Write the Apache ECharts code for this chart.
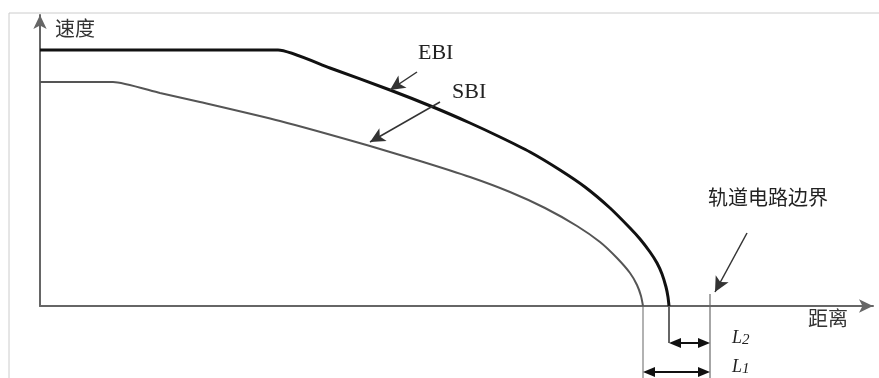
<!DOCTYPE html>
<html>
<head>
<meta charset="utf-8">
<script src="https://cdn.jsdelivr.net/npm/echarts@6/dist/echarts.min.js"></script>
<style>
html,body{margin:0;padding:0;background:#fff;}
#chart{width:879px;height:378px;}
</style>
</head>
<body>
<div id="chart"></div>
<script>
// 速度-距离曲线, 数值按图上估读 (横轴: 距离, 纵轴: 速度)
const curveNames = ['EBI', 'SBI'];
const ebiDist  = [0, 225, 238, 290, 350, 393, 430, 460, 490, 520, 545, 570, 590, 600, 610, 617, 622, 626, 628, 629];
const ebiSpeed = [256, 256, 256, 238, 216, 199, 183, 169, 154, 136, 119, 98, 78, 67, 54, 43, 32, 19, 9, 0];
const sbiDist  = [0, 65, 73, 120, 160, 240, 330, 380, 430, 470, 505, 537, 560, 577, 590, 597, 601, 603];
const sbiSpeed = [224, 224, 224, 213, 204, 185, 160, 145, 129, 114, 98, 80, 64, 48, 33, 21, 10, 0];
const boundaryDist = 670;   // 轨道电路边界
const distMax = 833;
const speedMax = 291;

// 标注箭头 [起点, 终点]
const ebiPointer = [[377, 234], [350, 216]];
const sbiPointer = [[400, 204], [330, 164]];
const boundaryPointer = [[707, 73], [675, 14]];
const l2Row = -37, l1Row = -66;
const belowBottom = -72;

let chart = echarts.init(document.getElementById('chart'));

const toPairs = (xs, ys) => xs.map((x, i) => [x, ys[i]]);

function arrowLine(a, b) {
  return [{coord: a, symbol: 'none'}, {coord: b, symbol: 'arrow'}];
}

chart.setOption({
  animation: false,
  grid: {left: 40, right: 6, top: 15, bottom: 72},
  xAxis: {
    type: 'value', min: 0, max: distMax,
    name: '距离', nameLocation: 'end', nameGap: -65,
    nameTextStyle: {fontFamily: 'Noto Sans CJK SC', fontSize: 20, color: '#333', align: 'left', verticalAlign: 'top', padding: [2, 0, 0, 0]},
    axisLine: {symbol: ['none', 'arrow'], symbolSize: [10, 14], lineStyle: {color: '#666', width: 2}},
    axisTick: {show: false}, axisLabel: {show: false}, splitLine: {show: false}
  },
  yAxis: {
    type: 'value', min: 0, max: speedMax,
    name: '速度', nameLocation: 'end', nameGap: -13,
    nameTextStyle: {fontFamily: 'Noto Sans CJK SC', fontSize: 20, color: '#333', align: 'left', verticalAlign: 'middle', padding: [0, 0, 0, 15]},
    axisLine: {symbol: ['none', 'arrow'], symbolSize: [10, 14], lineStyle: {color: '#666', width: 2}},
    axisTick: {show: false}, axisLabel: {show: false}, splitLine: {show: false}
  },
  series: [
    {
      name: curveNames[0], type: 'line', data: toPairs(ebiDist, ebiSpeed),
      showSymbol: false, smooth: 0.2, clip: false, silent: true,
      lineStyle: {color: '#111', width: 3},
      markLine: {
        silent: true, symbolSize: [11, 15], label: {show: false},
        lineStyle: {color: '#333', width: 1.5, type: 'solid'},
        data: [
          arrowLine(ebiPointer[0], ebiPointer[1]),
          arrowLine(sbiPointer[0], sbiPointer[1]),
          arrowLine(boundaryPointer[0], boundaryPointer[1])
        ]
      }
    },
    {
      name: curveNames[1], type: 'line', data: toPairs(sbiDist, sbiSpeed),
      showSymbol: false, smooth: 0.2, clip: false, silent: true,
      lineStyle: {color: '#555', width: 2}
    }
  ]
});

// 轴下方的标注 (markLine 会过滤超出坐标范围的点), 通过坐标轴换算位置
function px(p) { return chart.convertToPixel({gridIndex: 0}, p); }
function vline(x, y1, y2, color, w) {
  let a = px([x, y1]), b = px([x, y2]);
  return {type: 'line', silent: true, shape: {x1: a[0], y1: a[1], x2: b[0], y2: b[1]}, style: {stroke: color, lineWidth: w}};
}
function head(tip, dir) {
  // dir: +1 指向右, -1 指向左
  let L = 12, H = 5;
  return {type: 'polygon', silent: true,
    shape: {points: [[tip[0], tip[1]], [tip[0] - dir * L, tip[1] - H], [tip[0] - dir * L, tip[1] + H]]},
    style: {fill: '#111'}};
}
function dimArrow(x1, x2, y) {
  let a = px([x1, y]), b = px([x2, y]);
  return [
    {type: 'line', silent: true, shape: {x1: a[0] + 4, y1: a[1], x2: b[0] - 4, y2: b[1]}, style: {stroke: '#111', lineWidth: 2}},
    head(a, -1), head(b, 1)
  ];
}
function label(p, text, font) {
  let q = px(p);
  return {type: 'text', x: q[0], y: q[1], silent: true,
    style: {text: text, font: font, fill: '#222', align: 'left', verticalAlign: 'middle'}};
}
function subLabel(p, main, sub) {
  let q = px(p);
  return {type: 'text', x: q[0], y: q[1], silent: true,
    style: {text: '{a|' + main + '}{b|' + sub + '}', align: 'left', verticalAlign: 'middle', fill: '#222',
      rich: {
        a: {fontFamily: 'Liberation Serif', fontStyle: 'italic', fontSize: 18, fill: '#222'},
        b: {fontFamily: 'Liberation Serif', fontStyle: 'italic', fontSize: 15, fill: '#222', padding: [4, 0, 0, 0]}
      }}};
}
const serif = '22px "Liberation Serif"';
const cjk = '20px "Noto Sans CJK SC"';
const sbiEnd = sbiDist[sbiDist.length - 1];
const ebiEnd = ebiDist[ebiDist.length - 1];

chart.setOption({
  graphic: [
    {type: 'polyline', silent: true, shape: {points: [[9, 378], [9, 13], [879, 13]]}, style: {stroke: '#ccc', lineWidth: 1, fill: null}},
    vline(sbiEnd, 0, belowBottom, '#999', 1.5),
    vline(ebiEnd, 0, l2Row, '#333', 1.5),
    vline(boundaryDist, 12, belowBottom, '#888', 1.5)
  ].concat(
    dimArrow(ebiEnd, boundaryDist, l2Row),
    dimArrow(sbiEnd, boundaryDist, l1Row),
    [
      label([378, 253], curveNames[0], serif),
      label([412, 214], curveNames[1], serif),
      label([668, 109], '轨道电路边界', cjk),
      subLabel([692, l2Row + 5], 'L', '2'),
      subLabel([692, l1Row + 5], 'L', '1')
    ]
  )
});
</script>
</body>
</html>
